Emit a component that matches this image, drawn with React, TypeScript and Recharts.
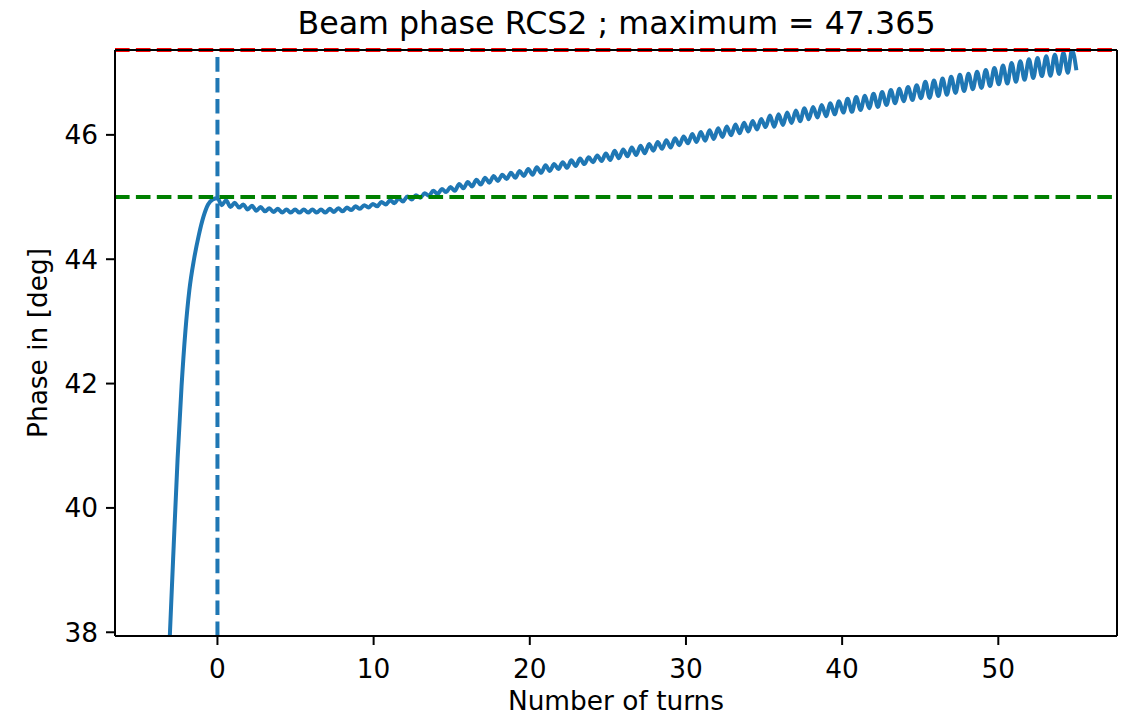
import React from 'react';
import { LineChart, Line, XAxis, YAxis, ReferenceLine, Label } from 'recharts';

const FONT = '"DejaVu Sans", Verdana, sans-serif';

const chartTitle = 'Beam phase RCS2 ; maximum = 47.365';
const xLabel = 'Number of turns';
const yLabel = 'Phase in [deg]';

const xTicks = [0, 10, 20, 30, 40, 50];
const yTicks = [38, 40, 42, 44, 46];

const maxPhase = 47.365;
const targetPhase = 45;
const startTurn = 0;

// rising part before turn 0
const riseTurns = [-3.6, -3.3, -3.04, -2.8, -2.55, -2.3, -2.05, -1.8, -1.5, -1.2, -0.9, -0.6, -0.3];
const risePhase = [34.2, 36.3, 38.0, 39.4, 40.8, 41.95, 42.85, 43.5, 44.0, 44.38, 44.68, 44.88, 44.96];

// oscillating part (peaks and troughs)
const turns = [
  0, 0.28, 0.55, 0.83, 1.11, 1.38, 1.66, 1.93, 2.21, 2.49,
  2.76, 3.04, 3.32, 3.59, 3.87, 4.15, 4.42, 4.7, 4.97, 5.25,
  5.53, 5.8, 6.08, 6.36, 6.63, 6.91, 7.19, 7.46, 7.74, 8.02,
  8.29, 8.57, 8.84, 9.12, 9.4, 9.67, 9.95, 10.23, 10.5, 10.78,
  11.06, 11.33, 11.61, 11.88, 12.16, 12.44, 12.71, 12.99, 13.27, 13.54,
  13.82, 14.1, 14.37, 14.65, 14.92, 15.2, 15.48, 15.75, 16.03, 16.31,
  16.58, 16.86, 17.14, 17.41, 17.69, 17.96, 18.24, 18.52, 18.79, 19.07,
  19.35, 19.62, 19.9, 20.18, 20.45, 20.73, 21.01, 21.28, 21.56, 21.83,
  22.11, 22.39, 22.66, 22.94, 23.22, 23.49, 23.77, 24.05, 24.32, 24.6,
  24.87, 25.15, 25.43, 25.7, 25.98, 26.26, 26.53, 26.81, 27.09, 27.36,
  27.64, 27.91, 28.19, 28.47, 28.74, 29.02, 29.3, 29.57, 29.85, 30.13,
  30.4, 30.68, 30.95, 31.23, 31.51, 31.78, 32.06, 32.34, 32.61, 32.89,
  33.17, 33.44, 33.72, 33.99, 34.27, 34.55, 34.82, 35.1, 35.38, 35.65,
  35.93, 36.21, 36.48, 36.76, 37.04, 37.31, 37.59, 37.86, 38.14, 38.42,
  38.69, 38.97, 39.25, 39.52, 39.8, 40.08, 40.35, 40.63, 40.9, 41.18,
  41.46, 41.73, 42.01, 42.29, 42.56, 42.84, 43.12, 43.39, 43.67, 43.94,
  44.22, 44.5, 44.77, 45.05, 45.33, 45.6, 45.88, 46.16, 46.43, 46.71,
  46.98, 47.26, 47.54, 47.81, 48.09, 48.37, 48.64, 48.92, 49.2, 49.47,
  49.75, 50.03, 50.3, 50.58, 50.85, 51.13, 51.41, 51.68, 51.96, 52.24,
  52.51, 52.79, 53.07, 53.34, 53.62, 53.89, 54.17, 54.45, 54.72, 55.0,
];

const phase = [
  44.98, 44.87, 44.95, 44.84, 44.91, 44.83, 44.88, 44.80, 44.86, 44.78,
  44.84, 44.77, 44.82, 44.76, 44.81, 44.75, 44.80, 44.75, 44.80, 44.75,
  44.80, 44.75, 44.80, 44.75, 44.80, 44.75, 44.81, 44.76, 44.82, 44.77,
  44.83, 44.79, 44.85, 44.81, 44.87, 44.83, 44.89, 44.85, 44.92, 44.88,
  44.95, 44.90, 44.98, 44.93, 45.01, 44.96, 45.03, 44.99, 45.06, 45.02,
  45.10, 45.05, 45.13, 45.08, 45.16, 45.10, 45.21, 45.14, 45.24, 45.17,
  45.28, 45.20, 45.31, 45.23, 45.34, 45.26, 45.36, 45.29, 45.39, 45.31,
  45.42, 45.34, 45.45, 45.36, 45.48, 45.39, 45.51, 45.42, 45.53, 45.45,
  45.56, 45.47, 45.59, 45.50, 45.62, 45.53, 45.64, 45.56, 45.67, 45.58,
  45.70, 45.595, 45.745, 45.625, 45.765, 45.655, 45.795, 45.675, 45.825, 45.705,
  45.855, 45.745, 45.885, 45.775, 45.915, 45.795, 45.945, 45.835, 45.975, 45.865,
  46.015, 45.885, 46.045, 45.905, 46.075, 45.935, 46.105, 45.965, 46.135, 45.995,
  46.165, 46.025, 46.195, 46.055, 46.225, 46.085, 46.255, 46.125, 46.31, 46.13,
  46.33, 46.16, 46.36, 46.19, 46.39, 46.22, 46.43, 46.25, 46.45, 46.28,
  46.48, 46.30, 46.51, 46.33, 46.54, 46.36, 46.58, 46.37, 46.61, 46.40,
  46.63, 46.43, 46.66, 46.45, 46.69, 46.48, 46.72, 46.51, 46.74, 46.54,
  46.77, 46.56, 46.80, 46.59, 46.855, 46.595, 46.875, 46.625, 46.905, 46.645,
  46.935, 46.675, 46.965, 46.705, 46.985, 46.735, 47.015, 46.755, 47.045, 46.785,
  47.075, 46.815, 47.115, 46.825, 47.155, 46.855, 47.185, 46.885, 47.215, 46.915,
  47.235, 46.945, 47.265, 46.95, 47.29, 46.98, 47.32, 47.00, 47.365, 47.04,
];

const data = [
  ...riseTurns.map((t, i) => ({ turn: t, phase: risePhase[i] })),
  ...turns.map((t, i) => ({ turn: t, phase: phase[i] })),
];

const X_DOMAIN: [number, number] = [-6.56, 57.6];
const Y_DOMAIN: [number, number] = [37.94, 47.365];

const axisStroke = { stroke: '#000', strokeWidth: 2 };
const tickStyle = { fontSize: 26.4, fill: '#000', fontFamily: FONT };
const DASH = '14.6 6.3';

export default function App() {
  return (
    <div style={{ position: 'absolute', left: 0, top: 0, width: 1130, height: 716, background: '#fff' }}>
      <LineChart width={1130} height={716} data={data} margin={{ top: 50, right: 13, bottom: 0, left: 0 }}>
        <XAxis
          dataKey="turn"
          type="number"
          domain={X_DOMAIN}
          allowDataOverflow
          ticks={xTicks}
          interval={0}
          height={80}
          tickSize={9}
          tickMargin={14}
          tick={tickStyle}
          axisLine={axisStroke}
          tickLine={axisStroke}
        >
          <Label
            value={xLabel}
            position="insideBottom"
            offset={6}
            fontSize={26.4}
            fill="#000"
            fontFamily={FONT}
            style={{ fontSize: 26.4, fill: '#000', fontFamily: FONT }}
          />
        </XAxis>
        <YAxis
          type="number"
          domain={Y_DOMAIN}
          allowDataOverflow
          ticks={yTicks}
          interval={0}
          width={115}
          tickSize={9}
          tickMargin={8}
          tick={tickStyle}
          axisLine={axisStroke}
          tickLine={axisStroke}
        />
        <Line
          dataKey="phase"
          type="monotoneX"
          stroke="#1f77b4"
          strokeWidth={4}
          dot={false}
          activeDot={false}
          isAnimationActive={false}
        />
        <ReferenceLine x={startTurn} stroke="#1f77b4" strokeWidth={4} strokeDasharray={DASH} />
        <ReferenceLine y={targetPhase} stroke="#008000" strokeWidth={4} strokeDasharray={DASH} />
        <ReferenceLine y={maxPhase} stroke="#ff0000" strokeWidth={4} strokeDasharray={DASH} />
        <ReferenceLine y={Y_DOMAIN[1]} stroke="#000" strokeWidth={2} />
        <ReferenceLine x={X_DOMAIN[1]} stroke="#000" strokeWidth={2} />
      </LineChart>
      <svg
        width={1130}
        height={716}
        style={{ position: 'absolute', left: 0, top: 0, pointerEvents: 'none' }}
      >
        <text x={616.5} y={34} textAnchor="middle" fontSize={31.7} fill="#000" fontFamily={FONT}>
          {chartTitle}
        </text>
        <text
          transform="translate(47,343) rotate(-90)"
          textAnchor="middle"
          fontSize={26.4}
          fill="#000"
          fontFamily={FONT}
        >
          {yLabel}
        </text>
      </svg>
    </div>
  );
}
